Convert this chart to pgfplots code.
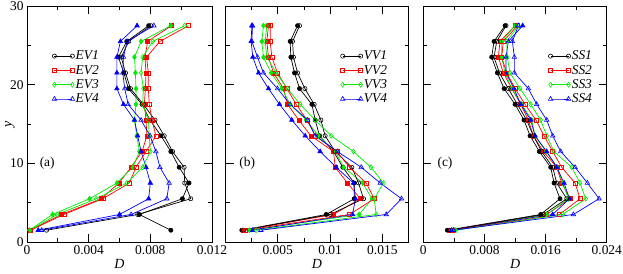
\documentclass[border=0pt]{standalone}
\usepackage{fontspec}
\setmainfont{Liberation Serif}
\usepackage{pgfplots}
\usepackage{pgfplotstable}
\pgfplotsset{compat=1.18}

\definecolor{ggreen}{RGB}{0,235,0}
\definecolor{gred}{RGB}{255,0,0}
\definecolor{gblue}{RGB}{0,0,255}

% columns: y, filled/open for series 1..4
\pgfplotstableread{
y    f1      o1      f2      o2      f3      o3      f4      o4
1.5  0.00933 0.00127 0.00019 0.00024 0.00015 0.00019 0.00073 0.00095
3.5  0.00729 0.00718 0.00224 0.00239 0.00166 0.00196 0.00600 0.00675
5.5  0.01008 0.01062 0.00482 0.00492 0.00406 0.00449 0.00789 0.00907
7.5  0.01051 0.01023 0.00596 0.00664 0.00583 0.00647 0.00800 0.00922
9.5  0.00987 0.01019 0.00675 0.00707 0.00686 0.00750 0.00772 0.00862
11.5 0.00933 0.00944 0.00746 0.00772 0.00729 0.00800 0.00740 0.00836
13.5 0.00869 0.00890 0.00778 0.00836 0.00712 0.00793 0.00718 0.00798
15.5 0.00798 0.00830 0.00772 0.00811 0.00697 0.00787 0.00697 0.00740
17.5 0.00746 0.00755 0.00761 0.00793 0.00707 0.00750 0.00626 0.00656
19.5 0.00658 0.00671 0.00768 0.00787 0.00707 0.00755 0.00583 0.00634
21.5 0.00628 0.00639 0.00772 0.00787 0.00703 0.00740 0.00583 0.00621
23.5 0.00593 0.00611 0.00765 0.00776 0.00697 0.00750 0.00583 0.00626
25.5 0.00647 0.00660 0.00783 0.00862 0.00740 0.00815 0.00606 0.00649
27.5 0.00789 0.00804 0.00937 0.01047 0.00933 0.01023 0.00714 0.00823
}\tabA

\pgfplotstableread{
y    f1      o1      f2      o2      f3      o3      f4      o4
1.5  0.00156 0.00172 0.00172 0.00188 0.00230 0.00293 0.00261 0.00338
3.5  0.00963 0.01001 0.01033 0.01186 0.01278 0.01441 0.01215 0.01537
5.5  0.01231 0.01320 0.01288 0.01422 0.01400 0.01422 0.01243 0.01683
7.5  0.01231 0.01272 0.01167 0.01345 0.01313 0.01511 0.01224 0.01479
9.5  0.01122 0.01208 0.01049 0.01186 0.01129 0.01390 0.01058 0.01298
11.5 0.01033 0.01049 0.01033 0.01065 0.01049 0.01224 0.00905 0.01071
13.5 0.00899 0.00953 0.00816 0.00861 0.00889 0.01011 0.00762 0.00858
15.5 0.00858 0.00912 0.00701 0.00778 0.00771 0.00858 0.00634 0.00784
17.5 0.00826 0.00848 0.00593 0.00676 0.00618 0.00714 0.00516 0.00618
19.5 0.00708 0.00759 0.00555 0.00587 0.00539 0.00593 0.00411 0.00497
21.5 0.00660 0.00689 0.00459 0.00497 0.00437 0.00485 0.00316 0.00363
23.5 0.00625 0.00650 0.00411 0.00443 0.00363 0.00395 0.00261 0.00306
25.5 0.00618 0.00641 0.00395 0.00427 0.00347 0.00379 0.00245 0.00252
27.5 0.00689 0.00708 0.00411 0.00427 0.00363 0.00395 0.00252 0.00258
}\tabB

\pgfplotstableread{
y    f1      o1      f2      o2      f3      o3      f4      o4
1.5  0.00314 0.00349 0.00349 0.00393 0.00414 0.00427 0.00371 0.00393
3.5  0.01535 0.01570 0.01614 0.01780 0.01614 0.01823 0.01692 0.01963
5.5  0.01788 0.01876 0.01919 0.02050 0.01897 0.02124 0.01911 0.02299
7.5  0.01710 0.01745 0.01810 0.01985 0.01823 0.02050 0.01841 0.02146
9.5  0.01666 0.01692 0.01745 0.01810 0.01754 0.01941 0.01745 0.01985
11.5 0.01518 0.01549 0.01570 0.01692 0.01605 0.01710 0.01614 0.01797
13.5 0.01396 0.01439 0.01439 0.01579 0.01461 0.01614 0.01461 0.01692
15.5 0.01317 0.01352 0.01374 0.01474 0.01418 0.01535 0.01405 0.01614
17.5 0.01200 0.01230 0.01274 0.01330 0.01287 0.01405 0.01274 0.01483
19.5 0.01056 0.01112 0.01156 0.01200 0.01156 0.01265 0.01186 0.01374
21.5 0.00968 0.00995 0.01047 0.01091 0.01069 0.01134 0.01082 0.01191
23.5 0.00894 0.00925 0.00981 0.01025 0.01025 0.01099 0.01082 0.01191
25.5 0.00925 0.00960 0.01003 0.01047 0.01025 0.01091 0.01112 0.01165
27.5 0.01069 0.01082 0.01200 0.01230 0.01200 0.01243 0.01300 0.01243
}\tabC

\pgfplotsset{
  panel/.style={
    scale only axis, height=236bp,
    ymin=0, ymax=30, ytick={0,10,20,30}, minor ytick={5,15,25},
    scaled x ticks=false, scaled y ticks=false,
    /pgf/number format/assume math mode=true,
    tick align=inside, xtick pos=both, ytick pos=both,
    major tick length=8bp, minor tick length=4bp,
    every tick/.style={black, line width=0.7pt},
    axis line style={line width=0.9pt},
    tick label style={font=\fontsize{13.5}{14}\selectfont},
    label style={font=\fontsize{14}{15}\selectfont},
    xlabel={\textit{D}},
    xlabel style={at={(axis description cs:0.5,-0.092)}, anchor=center},
    legend cell align=left,
    legend style={draw=none, fill=none, inner sep=0pt, row sep=1.8bp,
      font=\fontsize{13.5}{14}\selectfont\itshape,
      nodes={inner sep=1bp, text height=9bp, text depth=1.5bp}},
    legend image code/.code={\draw[mark repeat=2,mark phase=1,#1]
      plot coordinates {(0bp,0bp) (9bp,0bp) (18bp,0bp)};},
    every axis plot/.append style={line width=0.7pt, mark options={solid, line width=0.6pt}},
  },
  c1/.style={black, mark=*, mark size=2.1bp},
  c1o/.style={black, mark=o, mark size=2.1bp},
  c2/.style={gred, mark=square*, mark size=2bp},
  c2o/.style={gred, mark=square, mark size=2bp},
  c3/.style={ggreen, mark=diamond*, mark size=2.5bp},
  c3o/.style={ggreen, mark=diamond, mark size=2.5bp},
  c4/.style={gblue, mark=triangle*, mark size=2.6bp},
  c4o/.style={gblue, mark=triangle, mark size=2.6bp},
}

\begin{document}
\begin{tikzpicture}[x=1bp,y=1bp]
\useasboundingbox (0,0) rectangle (623,273);

% ---------- panel (a)
\begin{axis}[panel, at={(27bp,31bp)}, anchor=south west, width=185bp,
  xmin=0, xmax=0.012, xtick={0,0.004,0.008,0.012},
  xticklabels={0,0.004,0.008,0.012}, minor xtick={0.002,0.006,0.01},
  yticklabels={0,10,20,30},
  ylabel={\textit{y}},
  ylabel style={at={(axis description cs:-0.092,0.5)}, anchor=center},
  legend style={at={(axis description cs:0.135,0.815)}, anchor=north west}]
\addplot[c1, forget plot] table[x=f1,y=y]{\tabA};
\addplot[c2, forget plot] table[x=f2,y=y]{\tabA};
\addplot[c3, forget plot] table[x=f3,y=y]{\tabA};
\addplot[c4, forget plot] table[x=f4,y=y]{\tabA};
\addplot[c1o] table[x=o1,y=y]{\tabA};
\addplot[c2o] table[x=o2,y=y]{\tabA};
\addplot[c3o] table[x=o3,y=y]{\tabA};
\addplot[c4o] table[x=o4,y=y]{\tabA};
\legend{EV1,EV2,EV3,EV4}
\node[anchor=west, font=\fontsize{13.5}{14}\selectfont] at (axis cs:0.0006,10) {(a)};
\end{axis}

% ---------- panel (b)
\begin{axis}[panel, at={(225.5bp,31bp)}, anchor=south west, width=183bp,
  xmin=0, xmax=0.0175, xtick={0.005,0.01,0.015},
  xticklabels={0.005,0.01,0.015}, minor xtick={0.0025,0.0075,0.0125},
  yticklabels={},
  legend style={at={(axis description cs:0.627,0.815)}, anchor=north west}]
\addplot[c1, forget plot] table[x=f1,y=y]{\tabB};
\addplot[c2, forget plot] table[x=f2,y=y]{\tabB};
\addplot[c3, forget plot] table[x=f3,y=y]{\tabB};
\addplot[c4, forget plot] table[x=f4,y=y]{\tabB};
\addplot[c1o] table[x=o1,y=y]{\tabB};
\addplot[c2o] table[x=o2,y=y]{\tabB};
\addplot[c3o] table[x=o3,y=y]{\tabB};
\addplot[c4o] table[x=o4,y=y]{\tabB};
\legend{VV1,VV2,VV3,VV4}
\node[anchor=west, font=\fontsize{13.5}{14}\selectfont] at (axis cs:0.001,10) {(b)};
\end{axis}

% ---------- panel (c)
\begin{axis}[panel, at={(423.3bp,31bp)}, anchor=south west, width=183.5bp,
  xmin=0, xmax=0.024, xtick={0,0.008,0.016,0.024},
  xticklabels={0,0.008,0.016,0.024}, minor xtick={0.004,0.012,0.02},
  yticklabels={},
  legend style={at={(axis description cs:0.68,0.815)}, anchor=north west}]
\addplot[c1, forget plot] table[x=f1,y=y]{\tabC};
\addplot[c2, forget plot] table[x=f2,y=y]{\tabC};
\addplot[c3, forget plot] table[x=f3,y=y]{\tabC};
\addplot[c4, forget plot] table[x=f4,y=y]{\tabC};
\addplot[c1o] table[x=o1,y=y]{\tabC};
\addplot[c2o] table[x=o2,y=y]{\tabC};
\addplot[c3o] table[x=o3,y=y]{\tabC};
\addplot[c4o] table[x=o4,y=y]{\tabC};
\legend{SS1,SS2,SS3,SS4}
\node[anchor=west, font=\fontsize{13.5}{14}\selectfont] at (axis cs:0.0014,10) {(c)};
\end{axis}
\end{tikzpicture}
\end{document}
